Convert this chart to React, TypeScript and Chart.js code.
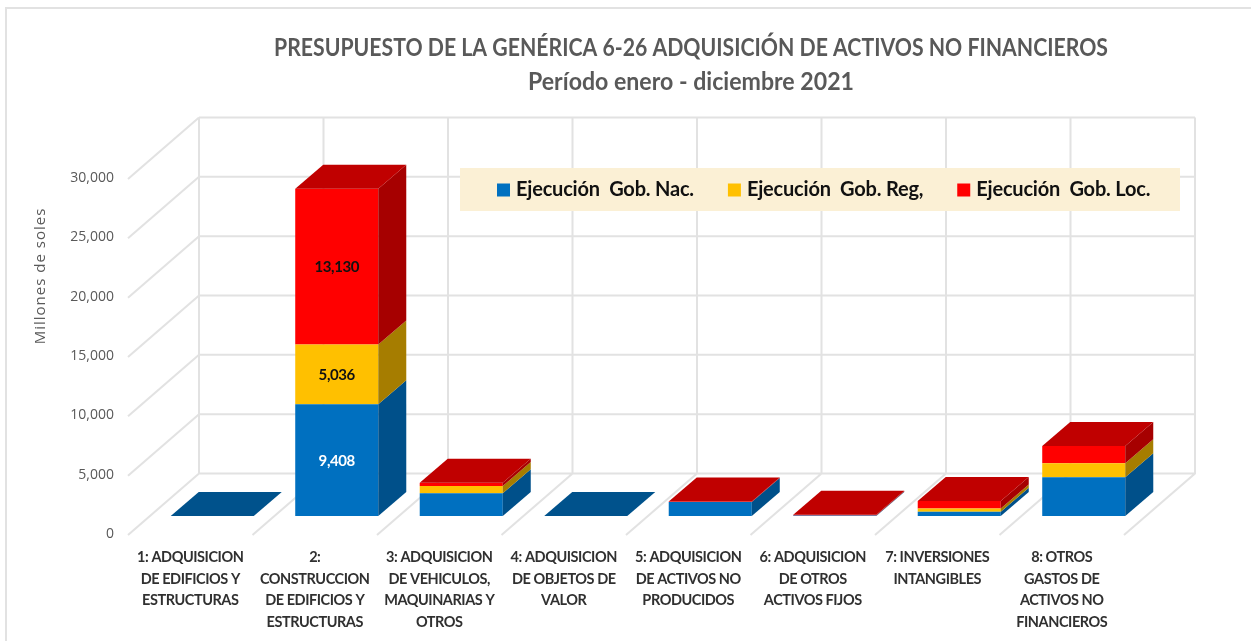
import React, { useEffect, useRef } from "react";
import { Chart, registerables } from "chart.js";

Chart.register(...registerables);

const categories: string[][] = [
  ["1: ADQUISICION", "DE EDIFICIOS Y", "ESTRUCTURAS"],
  ["2:", "CONSTRUCCION", "DE EDIFICIOS Y", "ESTRUCTURAS"],
  ["3: ADQUISICION", "DE VEHICULOS,", "MAQUINARIAS Y", "OTROS"],
  ["4: ADQUISICION", "DE OBJETOS DE", "VALOR"],
  ["5: ADQUISICION", "DE ACTIVOS NO", "PRODUCIDOS"],
  ["6: ADQUISICION", "DE OTROS", "ACTIVOS FIJOS"],
  ["7: INVERSIONES", "INTANGIBLES"],
  ["8: OTROS", "GASTOS DE", "ACTIVOS NO", "FINANCIEROS"],
];
const gobNac = [0, 9408, 1910, 0, 1180, 40, 360, 3260];
const gobReg = [0, 5036, 620, 0, 10, 10, 280, 1180];
const gobLoc = [0, 13130, 280, 0, 30, 50, 620, 1460];
const labelledValues = [9408, 5036, 13130];

const titleText = "PRESUPUESTO DE LA GENÉRICA 6-26 ADQUISICIÓN DE ACTIVOS NO FINANCIEROS";
const subtitleText = "Período enero - diciembre 2021";
const seriesStyles = [
  { name: "Ejecución  Gob. Nac.", front: "#0070C0", top: "#00528C", side: "#00508A", text: "#FFFFFF" },
  { name: "Ejecución  Gob. Reg,", front: "#FFC000", top: "#C09000", side: "#A67D00", text: "#111111" },
  { name: "Ejecución  Gob. Loc.", front: "#FF0000", top: "#C00000", side: "#A60000", text: "#111111" },
];
const seriesValues = [gobNac, gobReg, gobLoc];

const GRID = "#E2E2E2";
const PANEL = "#FBF0D5";
const FONT = "Lato, 'Open Sans', sans-serif";
const TITLE_CENTER = 691;
// Projection of the 3D box relative to the plane the bars stand on.
const FRONT = { dx: -22, dy: 19 };
const BACK = { dx: 49, dy: -42.5 };
const BAR_DEPTH = { dx: 28, dy: -24 };

function wrapOnce(obj: any, method: string, around: (ctx: any, call: () => void) => void, ctx: any) {
  const flag = `__wrapped_${method}`;
  if (obj[flag]) return;
  const original = obj[method].bind(obj);
  obj[method] = (...args: any[]) => {
    ctx.save();
    around(ctx, () => original(...args));
    ctx.restore();
  };
  obj[flag] = true;
}

const scene3d = {
  id: "scene3d",
  beforeLayout(chart: any) {
    const legend = chart.legend;
    if (legend && !legend.__fitWrapped) {
      const fit = legend.fit;
      legend.fit = function () {
        fit.call(this);
        this.height = 0; // floats over the back wall, takes no layout room
      };
      legend.__fitWrapped = true;
    }
  },
  afterLayout(chart: any) {
    const ctx = chart.ctx;
    const condense = (box: any, factor: number) => {
      box.left = TITLE_CENTER - 560;
      box.right = TITLE_CENTER + 560;
      wrapOnce(
        box,
        "draw",
        (c, call) => {
          c.translate(TITLE_CENTER, 0);
          c.scale(factor, 1);
          c.translate(-TITLE_CENTER, 0);
          call();
        },
        ctx
      );
    };
    chart.boxes.forEach((box: any) => {
      if (box.options && box.options.text === titleText) condense(box, 0.885);
      if (box.options && box.options.text === subtitleText) condense(box, 0.964);
    });
    const legend = chart.legend;
    if (legend) {
      legend.left = 463;
      legend.right = 1400;
      legend.top = 142;
      legend.bottom = 240;
      wrapOnce(
        legend,
        "draw",
        (c, call) => {
          c.letterSpacing = "-0.2px";
          call();
        },
        ctx
      );
    }
    const y = chart.scales.y;
    wrapOnce(
      y,
      "drawTitle",
      (c, call) => {
        const b = y.bottom;
        y.bottom = b - 124;
        c.letterSpacing = "1px";
        call();
        y.bottom = b;
      },
      ctx
    );
    wrapOnce(
      chart.scales.x,
      "drawLabels",
      (c, call) => {
        c.letterSpacing = "-0.45px";
        call();
      },
      ctx
    );
  },
  beforeDraw(chart: any) {
    const { ctx, scales, chartArea } = chart;
    const x = scales.x;
    const y = scales.y;
    const step = x.getPixelForValue(1) - x.getPixelForValue(0);
    const left = chartArea.left;
    const right = chartArea.right;
    const y0 = y.getPixelForValue(0);
    const yMax = y.getPixelForValue(y.max);
    ctx.save();
    ctx.fillStyle = "#FFFFFF";
    ctx.fillRect(0, 0, chart.width, chart.height);
    ctx.strokeStyle = GRID;
    ctx.lineWidth = 2;
    ctx.beginPath();
    ctx.moveTo(6, 641);
    ctx.lineTo(6, 8);
    ctx.lineTo(1251, 8);
    ctx.stroke();

    ctx.lineWidth = 2;
    ctx.beginPath();
    y.ticks.forEach((tick: any) => {
      const p = y.getPixelForValue(tick.value);
      ctx.moveTo(left + BACK.dx, p + BACK.dy);
      ctx.lineTo(right + BACK.dx, p + BACK.dy);
      ctx.moveTo(left + BACK.dx, p + BACK.dy);
      ctx.lineTo(left + FRONT.dx, p + FRONT.dy);
    });
    categories.forEach((_, i) => {
      const bx = left + step * i;
      ctx.moveTo(bx + BACK.dx, yMax + BACK.dy);
      ctx.lineTo(bx + BACK.dx, y0 + BACK.dy);
      if (i > 0) {
        ctx.lineTo(bx + FRONT.dx, y0 + FRONT.dy);
      }
    });
    ctx.moveTo(right + BACK.dx, yMax + BACK.dy);
    ctx.lineTo(right + BACK.dx, y0 + BACK.dy);
    ctx.lineTo(right + FRONT.dx, y0 + FRONT.dy);
    ctx.stroke();

    ctx.fillStyle = PANEL;
    ctx.fillRect(460, 168, 720, 43);
    ctx.restore();
  },
  afterDatasetsDraw(chart: any) {
    const { ctx } = chart;
    ctx.save();
    const metas = seriesStyles.map((_, s) => chart.getDatasetMeta(s));
    categories.forEach((_, i) => {
      let topSeries = 0;
      seriesValues.forEach((vals, s) => {
        if (vals[i] > 0) topSeries = s;
      });
      seriesStyles.forEach((style, s) => {
        const bar = metas[s].data[i];
        if (seriesValues[s][i] <= 0) return;
        const r = bar.x + bar.width / 2;
        ctx.fillStyle = style.side;
        ctx.beginPath();
        ctx.moveTo(r, bar.base);
        ctx.lineTo(r + BAR_DEPTH.dx, bar.base + BAR_DEPTH.dy);
        ctx.lineTo(r + BAR_DEPTH.dx, bar.y + BAR_DEPTH.dy);
        ctx.lineTo(r, bar.y);
        ctx.closePath();
        ctx.fill();
      });
      const bar = metas[topSeries].data[i];
      const l = bar.x - bar.width / 2;
      const r = bar.x + bar.width / 2;
      ctx.fillStyle = seriesStyles[topSeries].top;
      ctx.beginPath();
      ctx.moveTo(l, bar.y);
      ctx.lineTo(l + BAR_DEPTH.dx, bar.y + BAR_DEPTH.dy);
      ctx.lineTo(r + BAR_DEPTH.dx, bar.y + BAR_DEPTH.dy);
      ctx.lineTo(r, bar.y);
      ctx.closePath();
      ctx.fill();
    });
    ctx.font = `bold 15px ${FONT}`;
    (ctx as any).letterSpacing = "-0.4px";
    ctx.textAlign = "center";
    ctx.textBaseline = "middle";
    seriesStyles.forEach((style, s) => {
      seriesValues[s].forEach((v, i) => {
        if (!labelledValues.includes(v)) return;
        const bar = metas[s].data[i];
        ctx.fillStyle = style.text;
        ctx.fillText(v.toLocaleString("en-US"), bar.x, (bar.y + bar.base) / 2 + 0.5);
      });
    });
    ctx.restore();
  },
};

export default function App() {
  const ref = useRef<HTMLCanvasElement>(null);
  useEffect(() => {
    document.body.style.margin = "0";
    const chart = new Chart(ref.current as HTMLCanvasElement, {
      type: "bar",
      data: {
        labels: categories as any,
        datasets: seriesStyles.map((style, s) => ({
          label: style.name,
          data: seriesValues[s],
          backgroundColor: style.front,
          borderWidth: 0,
          categoryPercentage: 1,
          barPercentage: 0.667,
        })),
      },
      plugins: [scene3d],
      options: {
        responsive: false,
        animation: false,
        layout: { padding: { top: 0, left: 0, right: 105, bottom: 0 } },
        plugins: {
          tooltip: { enabled: false },
          title: {
            display: true,
            text: titleText,
            color: "#595959",
            font: { family: FONT, size: 24, weight: "bold", lineHeight: 33 / 24 },
            padding: { top: 32, bottom: 0 },
          },
          subtitle: {
            display: true,
            text: subtitleText,
            color: "#595959",
            font: { family: FONT, size: 24, weight: "bold", lineHeight: 33 / 24 },
            padding: { top: 1, bottom: 61 },
          },
          legend: {
            display: true,
            position: "top",
            align: "start",
            labels: {
              usePointStyle: true,
              pointStyle: "rect",
              boxWidth: 5,
              boxHeight: 13,
              padding: 38,
              color: "#111111",
              font: { family: FONT, size: 20, weight: "bold" },
            },
          },
        },
        scales: {
          x: {
            stacked: true,
            grid: { display: false, drawTicks: false },
            border: { display: false },
            afterFit: (s: any) => {
              s.height = 125;
            },
            ticks: {
              autoSkip: false,
              maxRotation: 0,
              minRotation: 0,
              labelOffset: -22,
              padding: 31,
              color: "#303030",
              font: { family: FONT, size: 14.5, weight: "bold", lineHeight: 21.5 / 14.5 },
            },
          },
          y: {
            stacked: true,
            min: 0,
            max: 30000,
            grid: { display: false, drawTicks: false },
            border: { display: false },
            afterFit: (s: any) => {
              s.width = 150;
            },
            title: {
              display: true,
              text: "Millones de soles",
              color: "#595959",
              font: { family: "'Open Sans', sans-serif", size: 15 },
              padding: { top: 32, bottom: 0 },
            },
            ticks: {
              stepSize: 5000,
              padding: 36,
              labelOffset: 18,
              color: "#595959",
              font: { family: "'Open Sans', sans-serif", size: 14 },
              callback: (v: any) => Number(v).toLocaleString("en-US"),
            },
          },
        },
      } as any,
    });
    return () => chart.destroy();
  }, []);
  return (
    <div style={{ width: 1251, height: 641 }}>
      <canvas ref={ref} width={1251} height={641} style={{ display: "block" }} />
    </div>
  );
}
